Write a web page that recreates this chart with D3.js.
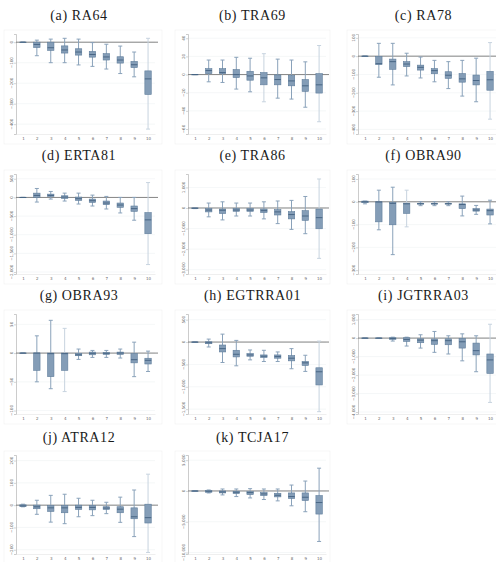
<!DOCTYPE html>
<html>
<head>
<meta charset="utf-8">
<script src="https://cdn.jsdelivr.net/npm/d3@7"></script>
<style>
  body { margin: 0; background: #fff; }
  .title { font-family: "Liberation Serif", serif; font-size: 14px; fill: #1a1a1a; letter-spacing: 0.6px; }
  .ylab, .tick text { font-family: "DejaVu Sans", sans-serif; font-size: 4px; fill: #666; }
</style>
</head>
<body>
<div id="chart"></div>
<script>
// box stats per decile: [whisker low, q1, median, q3, whisker high]
var deciles = [1, 2, 3, 4, 5, 6, 7, 8, 9, 10];

var ra64 = [[0,0,0,0,0],[-66,-26,-11,0,10],[-100,-40,-27,0,15],[-100,-53,-38,-18,19],[-111,-63,-48,-32,15],
            [-118,-73,-60,-45,-2],[-131,-87,-72,-56,-10],[-153,-102,-87,-71,-19],[-169,-124,-110,-94,-48],[-424,-255,-179,-140,19]];
var tra69 = [[0,0,0,0,0],[-8,1,4.4,6.5,16],[-8.7,1,2.2,6.5,16],[-16,-3.3,0,5.5,19],[-19,-6.2,-1.5,3.6,18],
             [-30,-11.3,-3.6,2.2,23],[-26,-11.3,-5.5,-0.4,17],[-27,-12.4,-7,-1,16],[-36,-18.5,-12.4,-5.5,14],[-52,-20.4,-11.3,1,32]];
var ra78 = [[0,0,0,0,0],[-115,-46,-41,-1,70],[-157,-72,-30,-16,70],[-108,-57,-43,-30,16],[-119,-76,-61,-49,-5],
            [-140,-96,-79,-68,-23],[-177,-121,-104,-85,-30],[-218,-142,-124,-95,-23],[-249,-157,-133,-103,-11],[-344,-186,-129,-83,74]];
var erta81 = [[0,0,0,0,0],[-124,0,53,115,240],[-44,27,53,88,160],[-97,-27,9,44,115],[-177,-80,-35,9,115],
              [-230,-133,-88,-44,62],[-310,-195,-150,-97,27],[-416,-265,-204,-150,0],[-611,-372,-300,-230,0],[-1800,-973,-602,-407,398]];
var tra86 = [[-30,-30,-10,0,0],[-430,-190,-100,-30,240],[-580,-270,-110,-50,300],[-390,-160,-100,-30,240],[-390,-160,-100,-30,240],
             [-530,-220,-130,-50,300],[-760,-340,-190,-80,340],[-1040,-530,-320,-180,370],[-1250,-600,-390,-130,560],[-2450,-1010,-470,-50,1410]];
var obra90 = [[-9,-4,0,3,3],[-123,-88,-1,0,51],[-232,-101,-7,-3,64],[-110,-51,-9,-6,51],[-17,-10,-9,-7,0],
              [-17,-10,-9,-7,0],[-17,-10,-9,-7,0],[-62,-30,-12,-9,25],[-55,-41,-36,-30,-16],[-97,-58,-39,-32,7]];
var obra93 = [[0,0,0,0,0],[-50,-30,0,0,30],[-62,-41,-1,0,57],[-67,-30,-1,0,43],[-11,-4.6,-3,-0.5,7],
              [-7.5,-3,-0.5,1.7,4.6],[-7.5,-2.3,-0.5,1,4.6],[-8.6,-2.3,0,1.7,7],[-41,-17,-11.5,-1,19],[-32,-19,-12.6,-9,3.4]];
var egtrra01 = [[0,0,0,0,0],[-110,-37,-15,7,66],[-457,-221,-147,-66,177],[-531,-332,-273,-184,37],[-398,-317,-288,-258,-177],
                [-435,-346,-317,-288,-184],[-435,-361,-325,-288,-221],[-597,-420,-361,-302,-147],[-656,-524,-465,-435,-295],[-1556,-959,-664,-575,22]];
var jgtrra03 = [[0,0,0,0,0],[-20,-10,0,0,10],[-160,-70,-20,20,50],[-430,-180,-70,20,50],[-540,-250,-110,-40,180],
                [-770,-340,-140,-50,360],[-860,-360,-140,-40,125],[-1230,-540,-200,-20,230],[-1820,-910,-680,-270,125],[-3480,-1910,-1180,-860,750]];
var atra12 = [[-7.4,-6,-3,1.5,4.4],[-41,-16,-7.4,0,22],[-76,-28,-12,-1.5,44],[-83,-34,-12,-1.5,49],[-52,-19,-10,0,31],
              [-47,-21,-10,-1.5,22],[-38,-19,-13,-7,13],[-77,-34,-18,-7,36],[-141,-61,-52,-12,68],[-212,-80,-56,4.4,139]];
var tcja17 = [[0,0,0,0,0],[-320,-210,-50,50,160],[-640,-320,-160,0,320],[-910,-430,-210,-50,320],[-1130,-590,-270,-110,375],
              [-1390,-750,-480,-270,320],[-1610,-960,-700,-375,320],[-2410,-1230,-910,-320,960],[-3370,-1550,-1020,-320,1610],[-8200,-3750,-1880,-750,3700]];

var titles = ["(a) RA64", "(b) TRA69", "(c) RA78", "(d) ERTA81", "(e) TRA86", "(f) OBRA90",
              "(g) OBRA93", "(h) EGTRRA01", "(i) JGTRRA03", "(j) ATRA12", "(k) TCJA17"];
var allStats = [ra64, tra69, ra78, erta81, tra86, obra90, obra93, egtrra01, jgtrra03, atra12, tcja17];

// y axis ticks and ranges
var yTicks = [[0,-100,-200,-300,-400], [40,20,0,-20,-40,-60], [100,0,-100,-200,-300,-400],
              [500,0,-500,-1000,-1500,-2000], [1000,0,-1000,-2000,-3000], [100,0,-100,-200,-300],
              [50,0,-50,-100], [500,0,-500,-1000,-1500], [1000,0,-1000,-2000,-3000,-4000],
              [200,100,0,-100,-200], [5000,0,-5000,-10000]];
var yRanges = [[-448,40], [-65.5,44.7], [-425,121], [-2053,628], [-3210,1653], [-317,122],
               [-106,68], [-1608,627], [-4107,1304], [-219,225], [-10236,5841]];

// deciles whose whiskers are drawn pale
var paleWhiskers = [[10], [6, 10], [10], [10], [10], [4], [4], [10], [10], [10], []];

var svgwidth = 496, svgheight = 562;

var colFrames = [[4, 162], [175, 330], [347, 500]];
var colAxis = [16, 188, 358];
var colRight = [155, 326, 497];
var rowTitle = [15, 155, 295, 437];
var rowPlot = [[34, 134], [174, 274], [314, 414], [455, 554]];

var fmt = d3.format(",");

var svg = d3.select("#chart")
    .append("svg")
    .attr("width", svgwidth)
    .attr("height", svgheight);

allStats.forEach(function(stats, i) {
    var col = i % 3, row = Math.floor(i / 3);
    var top = rowPlot[row][0], bottom = rowPlot[row][1];
    var left = colAxis[col], right = colRight[col];

    var g = svg.append("g");

    // faint frame round the plot region
    g.append("rect")
        .attr("x", colFrames[col][0]).attr("y", top - 4)
        .attr("width", colFrames[col][1] - colFrames[col][0])
        .attr("height", bottom - top + 14)
        .attr("fill", "none").attr("stroke", "#f0f0f0").attr("stroke-width", 0.6);

    g.append("text")
        .attr("class", "title")
        .attr("x", (colFrames[col][0] + colFrames[col][1]) / 2 - (col == 0 ? 4 : 0))
        .attr("y", rowTitle[row] + 4.5)
        .attr("text-anchor", "middle")
        .text(titles[i]);

    var x = d3.scalePoint().domain(deciles).range([left, right]).padding(0.5);
    var y = d3.scaleLinear().domain(yRanges[i]).range([bottom, top]);

    // grid lines
    g.selectAll(".grid")
        .data(yTicks[i])
        .enter()
        .append("line")
        .attr("x1", left).attr("x2", right)
        .attr("y1", d => y(d)).attr("y2", d => y(d))
        .attr("stroke", "#eef1f4").attr("stroke-width", 0.6);

    // y axis: line and tick marks from d3, labels rotated by hand
    var yAxis = d3.axisLeft(y).tickValues(yTicks[i]).tickFormat("").tickSize(2);
    var ya = g.append("g")
        .attr("transform", `translate(${left},0)`)
        .call(yAxis);
    ya.select(".domain").attr("stroke", "#aaa").attr("stroke-width", 0.6);
    ya.selectAll(".tick line").attr("stroke", "#aaa").attr("stroke-width", 0.5);

    g.selectAll(".ylab")
        .data(yTicks[i])
        .enter()
        .append("text")
        .attr("class", "ylab")
        .attr("text-anchor", "middle")
        .attr("transform", d => `translate(${left - 3.5},${y(d)}) rotate(-90)`)
        .text(d => fmt(d));

    // x axis labels
    var xAxis = d3.axisBottom(x).tickSize(0).tickPadding(3);
    var xa = g.append("g")
        .attr("transform", `translate(0,${bottom})`)
        .call(xAxis);
    xa.select(".domain").attr("stroke", "#e4e4e4").attr("stroke-width", 0.6);

    // zero line
    g.append("line")
        .attr("x1", left).attr("x2", right + 3)
        .attr("y1", y(0)).attr("y2", y(0))
        .attr("stroke", "#777").attr("stroke-width", 0.9);

    var bw = 6.4, cw = 4;
    var boxes = g.selectAll(".box")
        .data(stats)
        .enter()
        .append("g")
        .attr("transform", (d, j) => `translate(${x(deciles[j])},0)`);

    var wcol = (d, j) => paleWhiskers[i].indexOf(deciles[j]) >= 0 ? "#c7d3df" : "#8aa2ba";

    boxes.append("line")
        .attr("x1", 0).attr("x2", 0)
        .attr("y1", d => y(d[4])).attr("y2", d => y(d[0]))
        .attr("stroke", wcol).attr("stroke-width", 1);
    boxes.append("line")
        .attr("x1", -cw / 2).attr("x2", cw / 2)
        .attr("y1", d => y(d[4])).attr("y2", d => y(d[4]))
        .attr("stroke", wcol).attr("stroke-width", 1);
    boxes.append("line")
        .attr("x1", -cw / 2).attr("x2", cw / 2)
        .attr("y1", d => y(d[0])).attr("y2", d => y(d[0]))
        .attr("stroke", wcol).attr("stroke-width", 1);
    boxes.append("rect")
        .attr("x", -bw / 2).attr("width", bw)
        .attr("y", d => y(d[3]))
        .attr("height", d => Math.max(0.3, y(d[1]) - y(d[3])))
        .attr("fill", "#849db7").attr("stroke", "#5f7d9b").attr("stroke-width", 0.6);
    boxes.append("line")
        .attr("x1", -bw / 2).attr("x2", bw / 2)
        .attr("y1", d => y(d[2])).attr("y2", d => y(d[2]))
        .attr("stroke", "#42607f").attr("stroke-width", 0.9);
});
</script>
</body>
</html>
